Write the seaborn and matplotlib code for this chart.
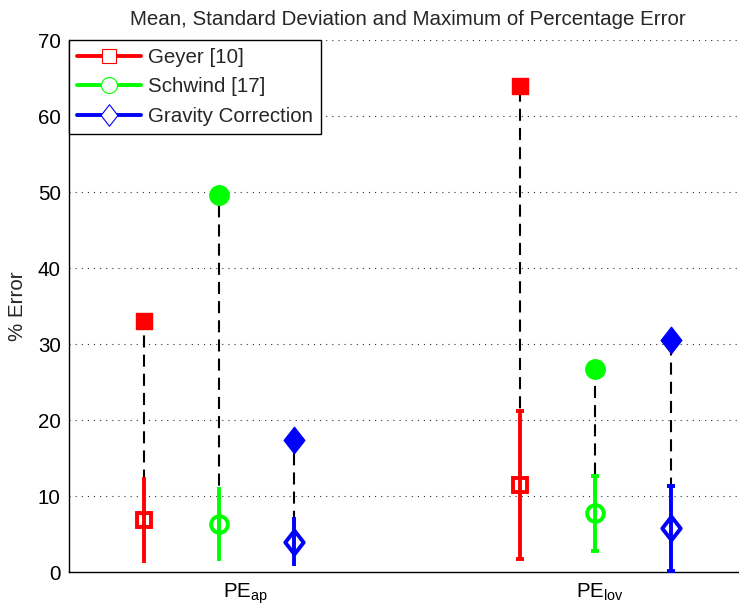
import numpy as np
import pandas as pd
import matplotlib
matplotlib.use("Agg")
import matplotlib.pyplot as plt
from matplotlib.path import Path
from matplotlib.lines import Line2D
import seaborn as sns

# data
methods = ["Geyer [10]", "Schwind [17]", "Gravity Correction"]
groups = ["PE$_{ap}$", "PE$_{lov}$"]
mean_ap = [6.85, 6.3, 4.0]
std_ap = [5.7, 4.9, 3.2]
max_ap = [33.0, 49.6, 17.4]
mean_lov = [11.45, 7.7, 5.75]
std_lov = [9.75, 4.9, 5.6]
max_lov = [63.9, 26.7, 30.5]

colors = ["#ff0000", "#00ff00", "#0000ff"]
diamond = Path([(0, 1), (0.78, 0), (0, -1), (-0.78, 0), (0, 1)],
               [Path.MOVETO, Path.LINETO, Path.LINETO, Path.LINETO, Path.CLOSEPOLY])
markers = ["s", "o", diamond]
msizes = [10, 12, 17]
offsets = [-0.2, 0.0, 0.2]
centers = [1, 2]
capsizes = [0, 3.2]
fs = 14.8

sns.set_theme(style="white")
plt.rcParams["font.family"] = ["Liberation Sans", "DejaVu Sans"]
plt.rcParams["mathtext.fontset"] = "custom"
plt.rcParams["mathtext.rm"] = "Liberation Sans"
plt.rcParams["mathtext.it"] = "Liberation Sans"

fig = plt.figure(figsize=(7.39, 6.13), dpi=100)
ax = fig.add_axes([69 / 739, 41 / 613, 677 / 739, 532 / 613])

rows = []
for g, (m, s, mx) in enumerate([(mean_ap, std_ap, max_ap), (mean_lov, std_lov, max_lov)]):
    for i in range(3):
        rows.append({"group": g, "method": methods[i], "x": centers[g] + offsets[i],
                     "mean": m[i], "std": s[i], "max": mx[i]})
df = pd.DataFrame(rows)

for _, r in df.iterrows():
    i = methods.index(r["method"])
    g = int(r["group"])
    ax.plot([r["x"], r["x"]], [r["mean"], r["max"]], color="black", lw=1.5,
            dashes=[5.8, 3.4], zorder=2)
    ax.errorbar(r["x"], r["mean"], yerr=r["std"], color=colors[i], lw=2.8,
                capsize=capsizes[g], capthick=2.8, marker=markers[i],
                ms=msizes[i], mfc="none", mec=colors[i], mew=2.8, zorder=3)
    sns.scatterplot(x=[r["x"]], y=[r["max"]], marker=markers[i], s=(msizes[i] + 2) ** 2,
                    color=colors[i], edgecolor=colors[i], linewidth=1, ax=ax,
                    zorder=4, legend=False)

ax.set_xlim(0.601, 2.40)
ax.set_ylim(0, 70)
ax.set_yticks(np.arange(0, 71, 10))
ax.set_xticks([1.07, 2.012])
ax.set_xticklabels(groups)
ax.tick_params(axis="both", labelsize=fs, colors="black")
ax.tick_params(axis="y", direction="in", length=5, width=0.8, pad=6)
ax.tick_params(axis="x", length=0, pad=7)
ax.yaxis.grid(True, color="#333333", lw=0.8, linestyle=(0, (1, 4.5)))
ax.set_axisbelow(True)
for side in ["top", "right"]:
    ax.spines[side].set_visible(False)
for side in ["left", "bottom"]:
    ax.spines[side].set_color("black")
    ax.spines[side].set_linewidth(1)
ax.set_ylabel("% Error", fontsize=fs, labelpad=8)
ax.set_title("Mean, Standard Deviation and Maximum of Percentage Error", fontsize=fs, pad=10.5)

handles = [Line2D([0], [0], color=colors[i], lw=2.8, marker=markers[i],
                  ms=[10, 11.5, 15.5][i], mfc="white", mec=colors[i], mew=0.8)
           for i in range(3)]
leg = ax.legend(handles, methods, loc="upper left", borderaxespad=0, fontsize=fs,
                handlelength=3.1, handletextpad=0.35, labelspacing=0.5,
                fancybox=False, framealpha=1, edgecolor="black", borderpad=0.4)
leg.get_frame().set_linewidth(1)

fig.savefig("out.png", dpi=100)
